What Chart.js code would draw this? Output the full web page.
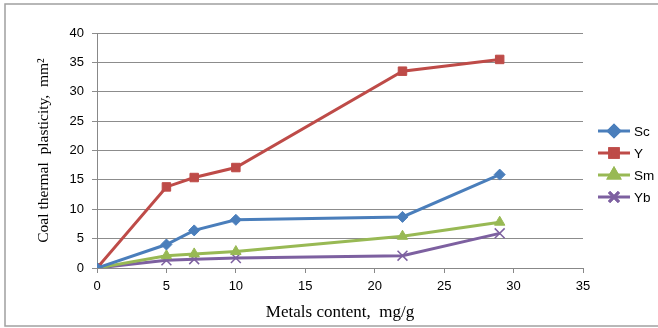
<!DOCTYPE html>
<html>
<head>
<meta charset="utf-8">
<script src="https://cdn.jsdelivr.net/npm/chart.js@4/dist/chart.umd.min.js"></script>
<style>
  html, body { margin: 0; padding: 0; background: #fff; }
  #wrap { width: 658px; height: 328px; position: relative; }
</style>
</head>
<body>
<div id="wrap"><canvas id="c" width="658" height="328"></canvas></div>
<script>
// Metal content (mg/g) and measured coal thermal plasticity (mm²)
const metalsContent = [0, 5, 7, 10, 22, 29];
const scValues = [0, 4.0, 6.4, 8.2, 8.7, 15.9];
const yValues  = [0, 13.8, 15.4, 17.1, 33.5, 35.5];
const smValues = [0, 2.1, 2.4, 2.8, 5.4, 7.8];
const ybValues = [0, 1.3, 1.5, 1.7, 2.1, 5.9];
const seriesNames = ['Sc', 'Y', 'Sm', 'Yb'];

const tickFont = { family: 'Liberation Sans, Arial, sans-serif', size: 13 };
const xTitleFont = { family: 'Liberation Serif, Times New Roman, serif', size: 17 };
const yTitleFont = { family: 'Liberation Serif, Times New Roman, serif', size: 15.5 };

function toPoints(vals) {
  return metalsContent.map((x, i) => ({ x: x, y: vals[i] }));
}

const styles = [
  { color: '#4A7EBB', pointStyle: 'rectRot', radius: 5.5 },
  { color: '#BE4B48', pointStyle: 'rect', radius: 6 },
  { color: '#98B954', pointStyle: 'triangle', radius: 6 },
  { color: '#7D60A0', pointStyle: 'crossRot', radius: 7 }
];

const datasets = [scValues, yValues, smValues, ybValues].map((vals, i) => ({
  label: seriesNames[i],
  data: toPoints(vals),
  showLine: true,
  borderColor: styles[i].color,
  backgroundColor: styles[i].color,
  borderWidth: 3,
  pointStyle: styles[i].pointStyle,
  pointRadius: styles[i].radius,
  pointBorderWidth: i === 3 ? 1.5 : 1,
  pointBorderColor: styles[i].color,
  pointBackgroundColor: styles[i].color,
  tension: 0
}));

// Outer frame around the whole chart
const framePlugin = {
  id: 'frame',
  afterDraw(chart) {
    const ctx = chart.ctx;
    ctx.save();
    ctx.strokeStyle = '#A0A0A0';
    ctx.lineWidth = 1.5;
    ctx.strokeRect(5, 4, 660, 322);
    ctx.restore();
  }
};

// Legend drawn as line + marker samples at the right of the plot
const sideLegend = {
  id: 'sideLegend',
  afterDraw(chart) {
    const ctx = chart.ctx;
    const x0 = 598, x1 = 630, yStart = 131, step = 22;
    chart.data.datasets.forEach((ds, i) => {
      const y = yStart + i * step;
      ctx.save();
      ctx.strokeStyle = ds.borderColor;
      ctx.lineWidth = 3;
      ctx.beginPath();
      ctx.moveTo(x0, y);
      ctx.lineTo(x1, y);
      ctx.stroke();
      Chart.helpers.drawPoint(ctx, {
        pointStyle: ds.pointStyle,
        radius: ds.pointRadius,
        rotation: 0,
        borderWidth: ds.pointBorderWidth
      }, (x0 + x1) / 2, y);
      ctx.fillStyle = ds.borderColor;
      ctx.fill();
      ctx.stroke();
      ctx.restore();
      ctx.save();
      ctx.fillStyle = '#000';
      ctx.font = '13.5px ' + tickFont.family;
      ctx.textBaseline = 'middle';
      ctx.fillText(ds.label, 634, y + 1);
      ctx.restore();
    });
  }
};

new Chart(document.getElementById('c'), {
  type: 'scatter',
  data: { datasets: datasets },
  options: {
    responsive: false,
    animation: false,
    devicePixelRatio: 1,
    layout: { padding: { left: 35, top: 33, right: 75, bottom: 5 } },
    plugins: {
      legend: { display: false },
      tooltip: { enabled: false }
    },
    scales: {
      x: {
        type: 'linear',
        min: 0, max: 35,
        afterFit(scale) { scale.height = 55; },
        ticks: { stepSize: 5, color: '#000', font: tickFont, padding: 6 },
        grid: { drawOnChartArea: false, drawTicks: true, tickLength: 5, color: '#888' },
        border: { display: true, color: '#888', width: 1 },
        title: {
          display: true,
          text: 'Metals content,  mg/g',
          color: '#000',
          font: xTitleFont,
          padding: { top: 4, bottom: 0 }
        }
      },
      y: {
        min: 0, max: 40,
        afterFit(scale) { scale.width = 62; },
        ticks: { stepSize: 5, color: '#000', font: tickFont, padding: 8 },
        grid: { color: '#8C8C8C', lineWidth: 1, drawTicks: true, tickLength: 5 },
        border: { display: true, color: '#888', width: 1 },
        title: {
          display: true,
          text: 'Coal thermal  plasticity,  mm²',
          color: '#000',
          font: yTitleFont,
          padding: { top: 0, bottom: 4 }
        }
      }
    }
  },
  plugins: [framePlugin, sideLegend]
});
</script>
</body>
</html>
